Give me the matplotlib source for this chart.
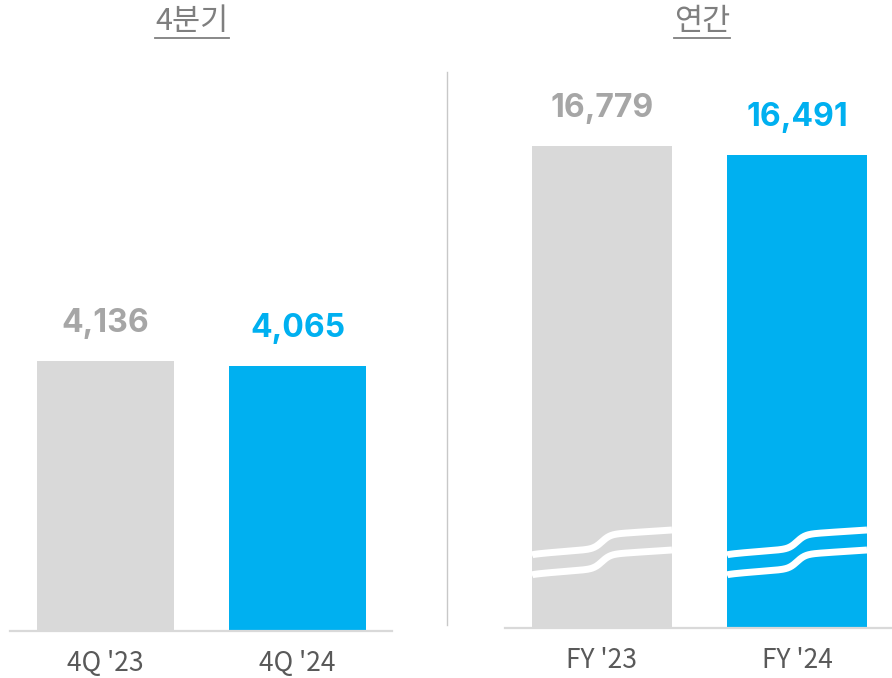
import numpy as np
import matplotlib
matplotlib.use("Agg")
import matplotlib.pyplot as plt
from matplotlib.transforms import blended_transform_factory
from matplotlib.lines import Line2D

plt.rcParams['font.family'] = ['Noto Sans CJK KR', 'DejaVu Sans']

# 데이터
q_labels = ["4Q '23", "4Q '24"]
q_values = [4136, 4065]
fy_labels = ["FY '23", "FY '24"]
fy_values = [16779, 16491]
titles = ["4분기", "연간"]

GRAY = "#d9d9d9"
BLUE = "#00b0f0"
bar_colors = [GRAY, BLUE]
label_colors = ["#a6a6a6", BLUE]

W, H = 892, 678
fig = plt.figure(figsize=(W / 100, H / 100), dpi=100)


def px_axes(x0, x1, ytop, ybot):
    return fig.add_axes([x0 / W, (H - ybot) / H, (x1 - x0) / W, (ybot - ytop) / H])


def style(ax, labels):
    for s in ["top", "left", "right"]:
        ax.spines[s].set_visible(False)
    ax.spines["bottom"].set_color(GRAY)
    ax.spines["bottom"].set_linewidth(1.6)
    ax.set_yticks([])
    ax.set_xticks(range(len(labels)))
    ax.set_xticklabels(labels, fontsize=19, color="#595959")
    ax.tick_params(axis="x", length=0, pad=14)


def value_labels(ax, values):
    for i, v in enumerate(values):
        ax.annotate(f"{v:,}", (i, v), xytext=(0, 27), textcoords="offset points",
                    ha="center", va="center", fontsize=23, fontweight="bold",
                    family=["Inter", "DejaVu Sans"], color=label_colors[i])


# 4분기
ax1 = px_axes(10, 392, 72, 631)
x = np.arange(len(q_values))
ax1.bar(x, q_values, width=0.714, color=bar_colors)
ax1.set_xlim(-0.497, 1.492)
ax1.set_ylim(0, 8563)
style(ax1, q_labels)
value_labels(ax1, q_values)

# 연간 (축 생략)
ax2 = px_axes(505, 892, 72, 628)
ax2.bar(x, fy_values, width=0.718, color=bar_colors)
ax2.set_xlim(-0.497, 1.487)
ax2.set_ylim(1355, 1355 + 556 / 0.03125)
style(ax2, fy_labels)
value_labels(ax2, fy_values)

# 물결 표시
tr = blended_transform_factory(ax2.transData, ax2.transAxes)
t = np.linspace(0, 1, 200)
for i in range(len(fy_values)):
    xs = i - 0.359 + t * 0.718
    ypx = 555 - 4 * np.sqrt(t) - 7 * t - 14 * (np.tanh((t - 0.5) / 0.06) + 1) / 2
    for off in (0, 20):
        ax2.plot(xs, (628 - (ypx + off)) / 556, color="white", lw=5,
                 transform=tr, solid_capstyle="butt", clip_on=False)

# 구분선
fig.add_artist(Line2D([447 / W, 447 / W], [(H - 72) / H, (H - 625) / H],
                      color="#c8c8c8", lw=1))

# 제목 (밑줄)
title_x = [192, 702]
txts = []
for tx, tt in zip(title_x, titles):
    txts.append(fig.text(tx / W, (H - 21) / H, tt, ha="center", va="center",
                         fontsize=22, color="#7f7f7f"))
fig.canvas.draw()
r = fig.canvas.get_renderer()
for tobj in txts:
    bb = tobj.get_window_extent(r)
    yl = (H - 38) / H
    fig.add_artist(Line2D([bb.x0 / W, bb.x1 / W], [yl, yl], color="#7f7f7f", lw=1.3))

fig.savefig("out.png", dpi=100)
